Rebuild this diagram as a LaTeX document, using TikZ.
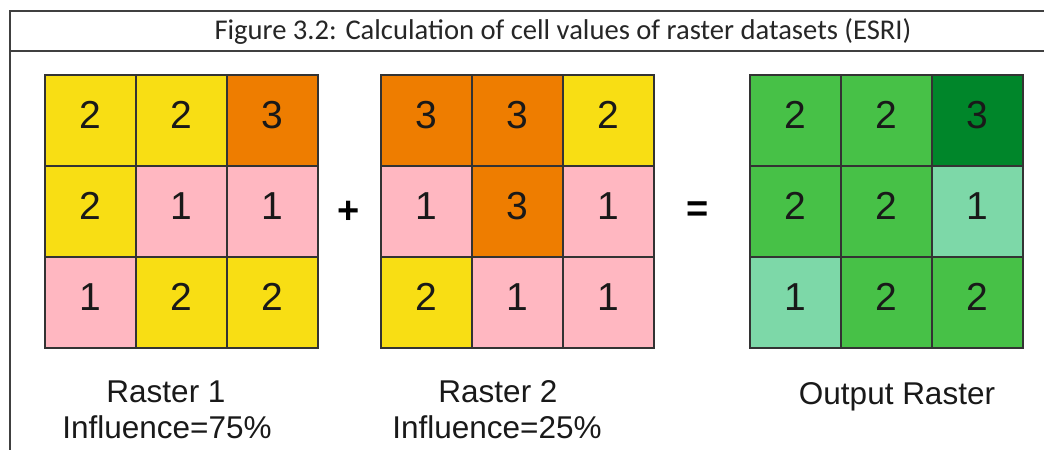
\documentclass[tikz,border=0pt]{standalone}
\usepackage{fontspec}
\setmainfont{Liberation Sans}
\newfontfamily\titlefont{Carlito}
\usetikzlibrary{positioning}

\definecolor{rasteryel}{HTML}{F8DE14}
\definecolor{rasterorg}{HTML}{EE7D00}
\definecolor{rasterpink}{HTML}{FFB7C1}
\definecolor{outgreen}{HTML}{47C147}
\definecolor{outdark}{HTML}{00862A}
\definecolor{outlight}{HTML}{7DD8A8}

\begin{document}
\begin{tikzpicture}[x=1pt, y=-1pt,
  frame/.style={draw=black!75, line width=1.3pt},
  cell/.style={draw=black!80, line width=1.1pt, minimum size=91pt, inner sep=0pt,
    text height=28pt, text depth=12pt, text=black!90, font=\fontsize{39}{39}\selectfont},
  caption/.style={anchor=base, inner sep=0pt, text=black!90, font=\fontsize{31.5}{37}\selectfont},
  op/.style={inner sep=0pt, font=\fontsize{38}{38}\selectfont\bfseries}
]
\useasboundingbox (0,0) rectangle (1044,450);
\fill[white] (0,0) rectangle (1044,450);

% title bar
\draw[frame] (1044,11) -- (10,11) -- (10,450);
\draw[frame] (10,51) -- (1044,51);
\node[anchor=base, inner sep=0pt, font=\titlefont\fontsize{28.6}{28.6}\selectfont, text=black!85]
  (title) at (563,39) {Figure 3.2: Calculation of cell values of raster datasets (ESRI)};

% raster 1
\foreach \v/\c [count=\i from 0] in {2/rasteryel,2/rasteryel,3/rasterorg,
    2/rasteryel,1/rasterpink,1/rasterpink,1/rasterpink,2/rasteryel,2/rasteryel}{
  \pgfmathtruncatemacro\col{mod(\i,3)}
  \pgfmathtruncatemacro\row{div(\i,3)}
  \node[cell, fill=\c] (a\row\col) at (90.5+91*\col, 120.5+91*\row) {\v};
}
% raster 2
\foreach \v/\c [count=\i from 0] in {3/rasterorg,3/rasterorg,2/rasteryel,
    1/rasterpink,3/rasterorg,1/rasterpink,2/rasteryel,1/rasterpink,1/rasterpink}{
  \pgfmathtruncatemacro\col{mod(\i,3)}
  \pgfmathtruncatemacro\row{div(\i,3)}
  \node[cell, fill=\c] (b\row\col) at (426.5+91*\col, 120.5+91*\row) {\v};
}
% output raster
\foreach \v/\c [count=\i from 0] in {2/outgreen,2/outgreen,3/outdark,
    2/outgreen,2/outgreen,1/outlight,1/outlight,2/outgreen,2/outgreen}{
  \pgfmathtruncatemacro\col{mod(\i,3)}
  \pgfmathtruncatemacro\row{div(\i,3)}
  \node[cell, fill=\c] (c\row\col) at (795.5+91*\col, 120.5+91*\row) {\v};
}

\node[op] (plus) at (349,212) {+};
\node[op] (equals) at (698,212) {=};

\node[caption] (r1name) at (166,402) {Raster 1};
\node[caption] (r1infl) at (167,438) {Influence=75\%};
\node[caption] (r2name) at (498,402) {Raster 2};
\node[caption] (r2infl) at (497,438) {Influence=25\%};
\node[caption] (outname) at (897,404) {Output Raster};
\end{tikzpicture}
\end{document}
